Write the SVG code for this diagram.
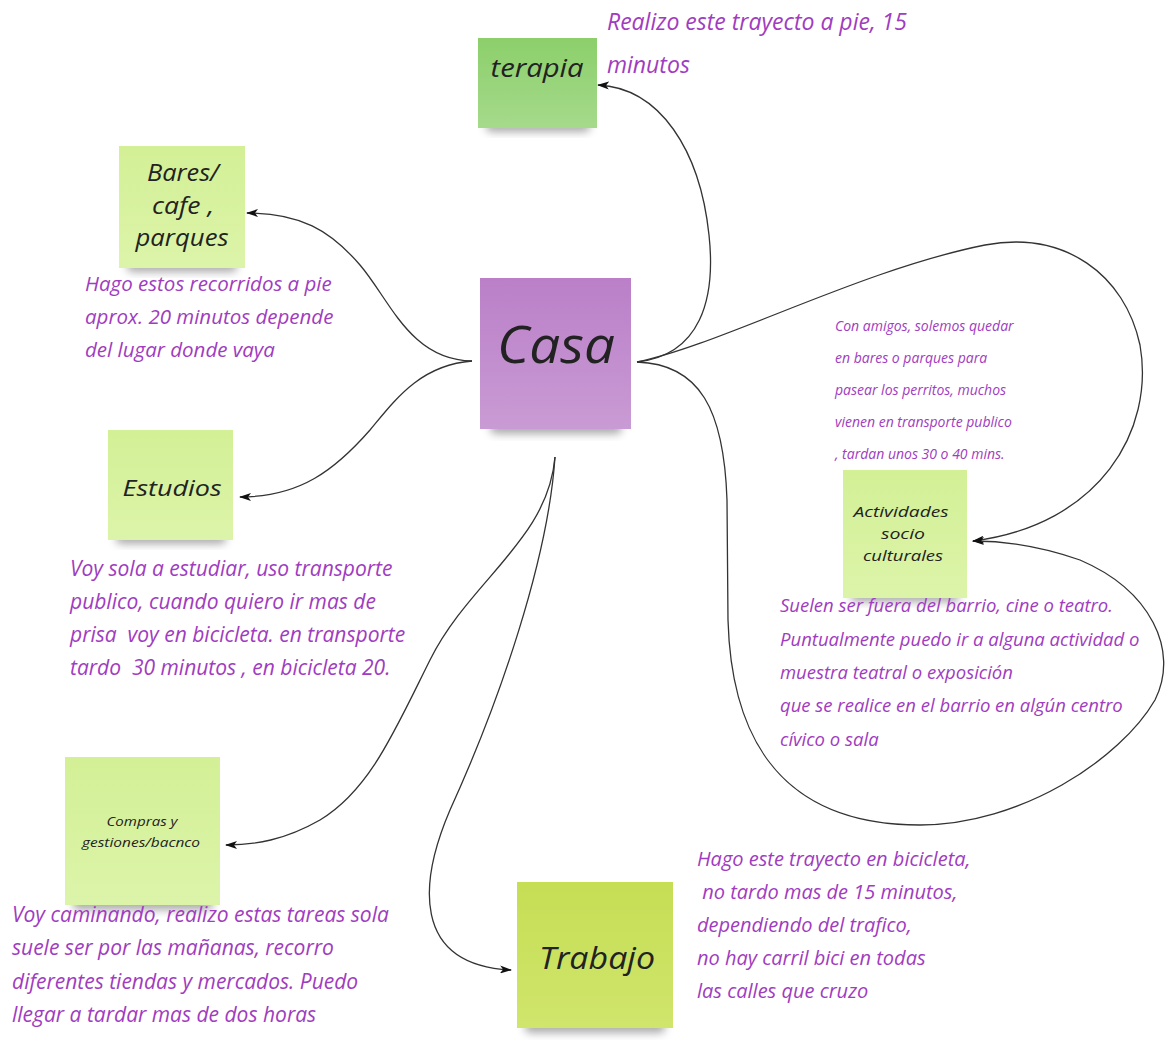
<svg xmlns="http://www.w3.org/2000/svg" width="1169" height="1061" viewBox="0 0 1169 1061">
<defs>
<linearGradient id="gGreen" x1="0" y1="0" x2="0" y2="1"><stop offset="0" stop-color="#8ccf6b"/><stop offset="1" stop-color="#a5da8b"/></linearGradient>
<linearGradient id="gLime" x1="0" y1="0" x2="0" y2="1"><stop offset="0" stop-color="#d3f096"/><stop offset="1" stop-color="#dcf4a9"/></linearGradient>
<linearGradient id="gPurple" x1="0" y1="0" x2="0" y2="1"><stop offset="0" stop-color="#ba7fc8"/><stop offset="1" stop-color="#c99bd4"/></linearGradient>
<linearGradient id="gYellow" x1="0" y1="0" x2="0" y2="1"><stop offset="0" stop-color="#c5de54"/><stop offset="1" stop-color="#d0e56c"/></linearGradient>
<filter id="blur" x="-20%" y="-50%" width="140%" height="200%"><feGaussianBlur stdDeviation="4"/></filter>
<marker id="arr" viewBox="0 0 12 8" refX="11" refY="4" markerWidth="12" markerHeight="8" markerUnits="userSpaceOnUse" orient="auto"><path d="M0,0 L12,4 L0,8 L3,4 Z" fill="#111"/></marker>
</defs>
<style>
.shadow{fill:#666;opacity:0.55;filter:url(#blur)}
.lbl{font-family:"Open Sans","DejaVu Sans",sans-serif;font-style:italic;fill:#222;text-anchor:middle}
.ann{font-family:"Open Sans","DejaVu Sans",sans-serif;font-style:italic;fill:#a03cc0;white-space:pre}
.con{fill:none;stroke:#333;stroke-width:1.3;marker-end:url(#arr)}
</style>
<rect width="1169" height="1061" fill="#ffffff"/>

<g id="connectors">
<path class="con" d="M637,362 C700,355 716,300 709,235 C700,150 660,88 598,85"/>
<path class="con" d="M637,362 C720,345 860,270 985,245 C1065,230 1125,275 1140,345 C1155,430 1100,525 973,541"/>
<path class="con" d="M637,362 C700,364 724,410 727,500 L728,620 C732,760 800,825 920,825 C1020,825 1120,760 1155,700 C1180,650 1150,590 1080,560 C1040,546 1005,541 973,541"/>
<path class="con" d="M472,361 C410,360 390,300 360,265 C330,230 300,213 247,213"/>
<path class="con" d="M472,361 C420,365 395,400 370,430 C335,470 300,497 240,497"/>
<path class="con" d="M555,457 C548,540 470,580 430,660 C395,730 370,790 320,820 C285,840 255,845 226,845"/>
<path class="con" d="M555,457 C548,560 500,700 450,810 C420,880 410,965 511,970"/>
</g>

<g id="node-terapia">
<rect class="shadow" x="486" y="120" width="104" height="12" rx="5"/>
<rect x="478" y="38" width="119" height="90" fill="url(#gGreen)"/>
<text class="lbl" x="537" y="77" font-size="25" textLength="93" lengthAdjust="spacingAndGlyphs">terapia</text>
</g>

<g id="node-bares">
<rect class="shadow" x="127" y="260" width="110" height="12" rx="5"/>
<rect x="119" y="146" width="126" height="122" fill="url(#gLime)"/>
<text class="lbl" x="183" y="181" font-size="23" textLength="72" lengthAdjust="spacingAndGlyphs">Bares/</text>
<text class="lbl" x="183" y="214" font-size="23" textLength="62" lengthAdjust="spacingAndGlyphs">cafe ,</text>
<text class="lbl" x="182" y="246" font-size="23" textLength="93" lengthAdjust="spacingAndGlyphs">parques</text>
</g>

<g id="node-casa">
<rect class="shadow" x="490" y="420" width="132" height="14" rx="6"/>
<rect x="480" y="278" width="151" height="151" fill="url(#gPurple)"/>
<text class="lbl" x="556" y="363" font-size="52" fill="#1a1a1a" textLength="118" lengthAdjust="spacingAndGlyphs">Casa</text>
</g>

<g id="node-estudios">
<rect class="shadow" x="116" y="532" width="110" height="12" rx="5"/>
<rect x="108" y="430" width="125" height="110" fill="url(#gLime)"/>
<text class="lbl" x="172" y="496" font-size="21" textLength="99" lengthAdjust="spacingAndGlyphs">Estudios</text>
</g>

<g id="node-actividades">
<rect class="shadow" x="851" y="590" width="108" height="12" rx="5"/>
<rect x="843" y="470" width="124" height="128" fill="url(#gLime)"/>
<text class="lbl" x="901" y="517" font-size="14" textLength="95" lengthAdjust="spacingAndGlyphs">Actividades</text>
<text class="lbl" x="903" y="539" font-size="14" textLength="44" lengthAdjust="spacingAndGlyphs">socio</text>
<text class="lbl" x="903" y="561" font-size="14" textLength="80" lengthAdjust="spacingAndGlyphs">culturales</text>
</g>

<g id="node-compras">
<rect class="shadow" x="73" y="897" width="140" height="13" rx="5"/>
<rect x="65" y="757" width="155" height="148" fill="url(#gLime)"/>
<text class="lbl" x="142" y="826" font-size="12.5" textLength="71" lengthAdjust="spacingAndGlyphs">Compras y</text>
<text class="lbl" x="141" y="847" font-size="12.5" textLength="118" lengthAdjust="spacingAndGlyphs">gestiones/bacnco</text>
</g>

<g id="node-trabajo">
<rect class="shadow" x="525" y="1020" width="140" height="13" rx="5"/>
<rect x="517" y="882" width="156" height="146" fill="url(#gYellow)"/>
<text class="lbl" x="597" y="969" font-size="31" textLength="116" lengthAdjust="spacingAndGlyphs">Trabajo</text>
</g>

<g id="annotations">
<text class="ann" font-size="23" x="607" y="30">Realizo este trayecto a pie, 15</text>
<text class="ann" font-size="23" x="607" y="73">minutos</text>

<text class="ann" font-size="20.5" x="85" y="291">Hago estos recorridos a pie</text>
<text class="ann" font-size="20.5" x="85" y="324">aprox. 20 minutos depende</text>
<text class="ann" font-size="20.5" x="85" y="357">del lugar donde vaya</text>

<text class="ann" font-size="14" x="835" y="331">Con amigos, solemos quedar</text>
<text class="ann" font-size="14" x="835" y="363">en bares o parques para</text>
<text class="ann" font-size="14" x="835" y="395">pasear los perritos, muchos</text>
<text class="ann" font-size="14" x="835" y="427">vienen en transporte publico</text>
<text class="ann" font-size="14" x="835" y="459">, tardan unos 30 o 40 mins.</text>

<text class="ann" font-size="21" x="70" y="576">Voy sola a estudiar, uso transporte</text>
<text class="ann" font-size="21" x="70" y="609">publico, cuando quiero ir mas de</text>
<text class="ann" font-size="21" x="70" y="642">prisa  voy en bicicleta. en transporte</text>
<text class="ann" font-size="21" x="70" y="675">tardo  30 minutos , en bicicleta 20.</text>

<text class="ann" font-size="18.5" x="780" y="612">Suelen ser fuera del barrio, cine o teatro.</text>
<text class="ann" font-size="18.5" x="780" y="646">Puntualmente puedo ir a alguna actividad o</text>
<text class="ann" font-size="18.5" x="780" y="679">muestra teatral o exposición</text>
<text class="ann" font-size="18.5" x="780" y="712">que se realice en el barrio en algún centro</text>
<text class="ann" font-size="18.5" x="780" y="746">cívico o sala</text>

<text class="ann" font-size="21" x="12" y="922">Voy caminando, realizo estas tareas sola</text>
<text class="ann" font-size="21" x="12" y="955">suele ser por las mañanas, recorro</text>
<text class="ann" font-size="21" x="12" y="989">diferentes tiendas y mercados. Puedo</text>
<text class="ann" font-size="21" x="12" y="1022">llegar a tardar mas de dos horas</text>

<text class="ann" font-size="20" x="697" y="866">Hago este trayecto en bicicleta,</text>
<text class="ann" font-size="20" x="697" y="899"> no tardo mas de 15 minutos,</text>
<text class="ann" font-size="20" x="697" y="932">dependiendo del trafico,</text>
<text class="ann" font-size="20" x="697" y="965">no hay carril bici en todas</text>
<text class="ann" font-size="20" x="697" y="998">las calles que cruzo</text>
</g>
</svg>
